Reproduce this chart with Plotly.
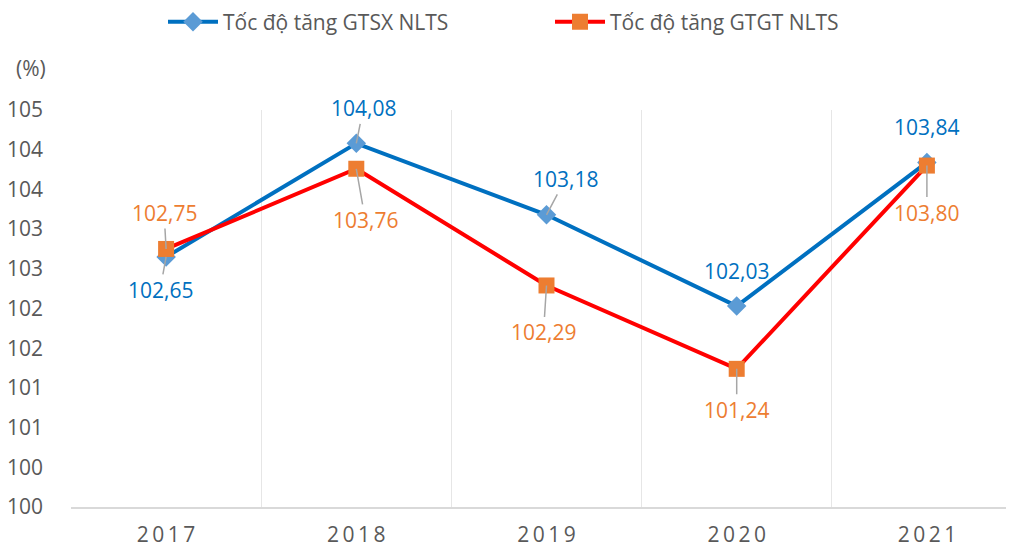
import plotly.graph_objects as go

years = ["2017", "2018", "2019", "2020", "2021"]
gtsx = [102.65, 104.08, 103.18, 102.03, 103.84]
gtgt = [102.75, 103.76, 102.29, 101.24, 103.80]
name_gtsx = "Tốc độ tăng GTSX NLTS"
name_gtgt = "Tốc độ tăng GTGT NLTS"
y_tickvals = [99.5, 100, 100.5, 101, 101.5, 102, 102.5, 103, 103.5, 104, 104.5]
y_ticktext = ["100", "100", "101", "101", "102", "102", "103", "103", "104", "104", "105"]
unit_label = "(%)"

FONT = "Open Sans"
FS = 21
GRAY = "#595959"
BLUE_LINE = "#0070C0"
BLUE_MARK = "#5B9BD5"
RED_LINE = "#FF0000"
ORANGE = "#ED7D31"

# page body has an 8px margin, so figure coords = screen coords - 8
OFF = 8
L, T, W, H = 71 - OFF, 110 - OFF, 951, 397

xs = list(range(len(years)))

fig = go.Figure()
fig.add_trace(go.Scatter(
    x=xs, y=gtsx, name=name_gtsx, mode="lines+markers",
    line=dict(color=BLUE_LINE, width=4),
    marker=dict(symbol="diamond", size=15, color=BLUE_MARK),
))
fig.add_trace(go.Scatter(
    x=xs, y=gtgt, name=name_gtgt, mode="lines+markers",
    line=dict(color=RED_LINE, width=4),
    marker=dict(symbol="square", size=16, color=ORANGE),
))

def fmt(v):
    return f"{v:.2f}".replace(".", ",")

# label offsets (pixels) and whether a leader line is drawn
blue_offsets = [(-6, 33, True), (7, -35, True), (19, -36, True), (0, -35, False), (0, -35, False)]
orange_offsets = [(-2, -36, True), (9, 51, True), (-3, 47, True), (0, 41, True), (0, 47, True)]

for vals, offs, col in ((gtsx, blue_offsets, BLUE_LINE), (gtgt, orange_offsets, ORANGE)):
    for i, (v, (ax, ay, leader)) in enumerate(zip(vals, offs)):
        if leader:
            fig.add_annotation(
                x=i, y=v, ax=ax, ay=ay, text=fmt(v), showarrow=True,
                arrowhead=0, arrowwidth=1.5, arrowcolor="#A6A6A6", standoff=0,
                font=dict(family=FONT, size=FS, color=col),
            )
        else:
            fig.add_annotation(
                x=i, y=v, xshift=ax, yshift=-ay, text=fmt(v), showarrow=False,
                font=dict(family=FONT, size=FS, color=col),
            )

fig.add_annotation(
    xref="paper", yref="paper", x=(31 - OFF - L) / W, y=1 + (T - (68 - OFF)) / H,
    xanchor="center", yanchor="middle",
    text=unit_label, showarrow=False,
    font=dict(family=FONT, size=FS, color=GRAY),
)

fig.update_layout(
    width=1014, height=548,
    margin=dict(l=L, r=1014 - L - W, t=T, b=548 - T - H, autoexpand=False),
    paper_bgcolor="white", plot_bgcolor="white",
    font=dict(family=FONT, size=FS, color=GRAY),
    showlegend=True,
    legend=dict(
        orientation="h", x=(550 - OFF - L) / W, xanchor="center",
        y=1 + (T - (22 - OFF)) / H, yanchor="middle",
        font=dict(family=FONT, size=FS, color=GRAY), entrywidth=322, entrywidthmode="pixels",
        itemwidth=50,
    ),
    xaxis=dict(
        range=[-0.5, 4.5], tickvals=xs, ticktext=["\u2009".join(y) for y in years],
        showgrid=False, zeroline=False, automargin=False,
        showline=True, linecolor="#D9D9D9", linewidth=1.5,
        minor=dict(showgrid=True, tick0=-0.5, dtick=1, gridcolor="#E6E6E6", gridwidth=1),
        ticklabelstandoff=8,
        tickfont=dict(family=FONT, size=FS, color=GRAY),
    ),
    yaxis=dict(
        range=[99.5, 104.5], tickvals=y_tickvals, ticktext=y_ticktext,
        showgrid=False, zeroline=False, showline=False, automargin=False,
        ticklabelstandoff=27,
        tickfont=dict(family=FONT, size=FS, color=GRAY),
    ),
)

fig.write_html("out.html")
